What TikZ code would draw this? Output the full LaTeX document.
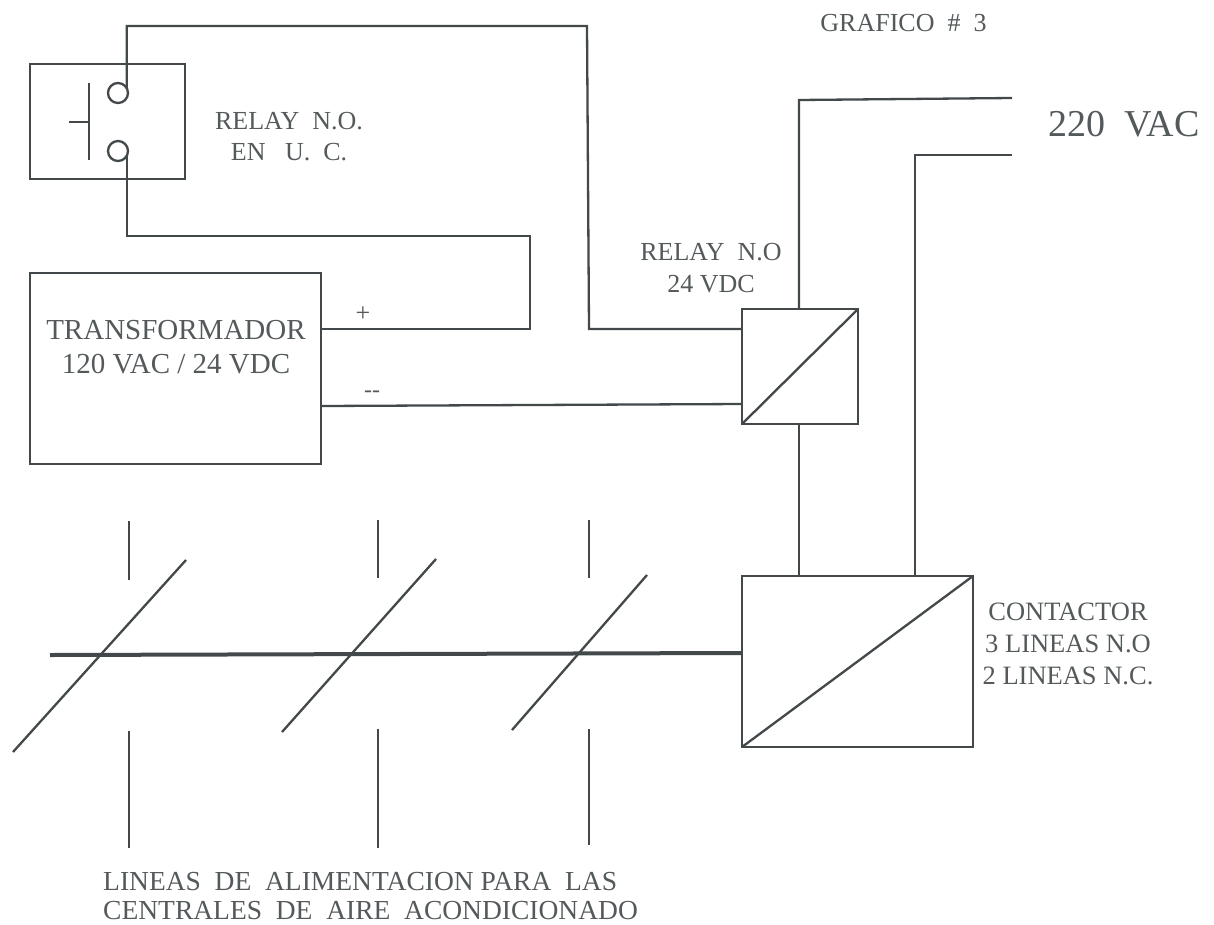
\documentclass[tikz,border=0pt]{standalone}
\usepackage{fontspec}
\setmainfont{Liberation Serif}
\definecolor{ink}{HTML}{43484A}
\definecolor{txt}{HTML}{54595B}
\tikzset{
  wire/.style={draw=ink,line width=2.3pt},
  thickwire/.style={draw=ink,line width=4pt},
  block/.style={draw=ink,line width=2.4pt,fill=none,rectangle,inner sep=0pt,outer sep=0pt},
  term/.style={draw=ink,line width=2.3pt,circle,minimum size=20pt,inner sep=0pt,outer sep=0pt},
  lbl/.style={text=txt,font=\fontsize{26}{33}\selectfont,align=center,inner sep=0pt}
}
\begin{document}
\begin{tikzpicture}[x=1pt,y=-1pt]
\useasboundingbox[fill=white] (0,0) rectangle (1214,924);
% blocks
\node[block,minimum width=155pt,minimum height=115pt] (ruc) at (107.5,121.5) {};
\node[block,minimum width=291pt,minimum height=191pt] (trafo) at (175.5,368.5) {};
\node[block,minimum width=116pt,minimum height=115pt] (rel) at (800,366.5) {};
\node[block,minimum width=231pt,minimum height=171pt] (con) at (857.5,661.5) {};
\draw[wire] (rel.south west) -- (rel.north east);
\draw[wire] (con.south west) -- (con.north east);
% switch
\node[term] (t1) at (118,93) {};
\node[term] (t2) at (118,151) {};
\coordinate (barT) at (89,83);
\coordinate (barB) at (89,160);
\coordinate (barM) at (89,122);
\coordinate (stub) at (69,122);
\draw[wire] (barT) -- (barB);
\draw[wire] (stub) -- (barM);
% control wiring
\coordinate (a1) at (127,26);
\coordinate (a2) at (587,26);
\coordinate (a3) at (589,329);
\coordinate (aEnd) at (rel.west |- a3);
\draw[wire] (t1.30) -- (t1.30 |- a1) -- (a1) -- (a2) -- (a3) -- (aEnd);
\coordinate (b1) at (127,236);
\coordinate (b2) at (530,236);
\coordinate (b3) at (530,329);
\coordinate (bEnd) at (trafo.east |- b3);
\draw[wire] (t2.-30) -- (t2.-30 |- b1) -- (b1) -- (b2) -- (b3) -- (bEnd);
\coordinate (cS) at (trafo.east |- 0,406);
\coordinate (cE) at (rel.west |- 0,404);
\draw[wire] (cS) -- (cE);
% 220 VAC
\coordinate (p1) at (1012,98);
\coordinate (p2) at (799,100);
\draw[wire] (p1) -- (p2) -- (p2 |- rel.north);
\coordinate (q1) at (1012,155);
\coordinate (q2) at (915,155);
\draw[wire] (q1) -- (q2) -- (q2 |- con.north);
\coordinate (rb) at (799,424);
\coordinate (cb) at (799,576);
\draw[wire] (rb) -- (cb);
% main bus
\coordinate (busS) at (50,655);
\coordinate (busE) at (con.west |- 0,653);
\draw[thickwire] (busS) -- (busE);
% slashes
\coordinate (s1a) at (186,560); \coordinate (s1b) at (13,752);
\coordinate (s2a) at (436,559); \coordinate (s2b) at (282,732);
\coordinate (s3a) at (647,575); \coordinate (s3b) at (512,730);
\draw[wire] (s1a) -- (s1b);
\draw[wire] (s2a) -- (s2b);
\draw[wire] (s3a) -- (s3b);
% phase ticks
\coordinate (v1a) at (129,521); \coordinate (v1b) at (129,580);
\coordinate (v1c) at (129,731); \coordinate (v1d) at (129,848);
\coordinate (v2a) at (378,520); \coordinate (v2b) at (378,578);
\coordinate (v2c) at (378,729); \coordinate (v2d) at (378,848);
\coordinate (v3a) at (589,520); \coordinate (v3b) at (589,578);
\coordinate (v3c) at (589,729); \coordinate (v3d) at (589,845);
\draw[wire] (v1a) -- (v1b);
\draw[wire] (v1c) -- (v1d);
\draw[wire] (v2a) -- (v2b);
\draw[wire] (v2c) -- (v2d);
\draw[wire] (v3a) -- (v3b);
\draw[wire] (v3c) -- (v3d);
% labels
\node[lbl,font=\fontsize{26}{30}\selectfont] (graf) at (903.5,23) {GRAFICO \ \# \ 3};
\node[lbl,font=\fontsize{38}{44}\selectfont] (vac) at (1124,124) {220\ \ VAC};
\node[lbl,font=\fontsize{26}{31}\selectfont] (l1) at (289,137) {RELAY\ \ N.O.\\EN\ \ \ U.\ \ C.};
\node[lbl,font=\fontsize{26}{32}\selectfont] (l2) at (711,268.5) {RELAY\ \ N.O\\24 VDC};
\node[lbl,font=\fontsize{29}{34}\selectfont] (l3) at (176,347) {TRANSFORMADOR\\120 VAC / 24 VDC};
\node[lbl] (plus) at (363,314) {+};
\node[lbl,font=\fontsize{24}{28}\selectfont] (minus) at (372,394) {{-}{-}};
\node[lbl,font=\fontsize{26.5}{32}\selectfont] (l4) at (1068,644) {CONTACTOR\\3 LINEAS N.O\\2 LINEAS N.C.};
\node[lbl,font=\fontsize{27.5}{29}\selectfont,align=left,anchor=north west] (l5) at (103,872) {LINEAS\ \ DE\ \ ALIMENTACION PARA\ \ LAS\\CENTRALES\ \ DE\ \ AIRE\ \ ACONDICIONADO};
\end{tikzpicture}
\end{document}
